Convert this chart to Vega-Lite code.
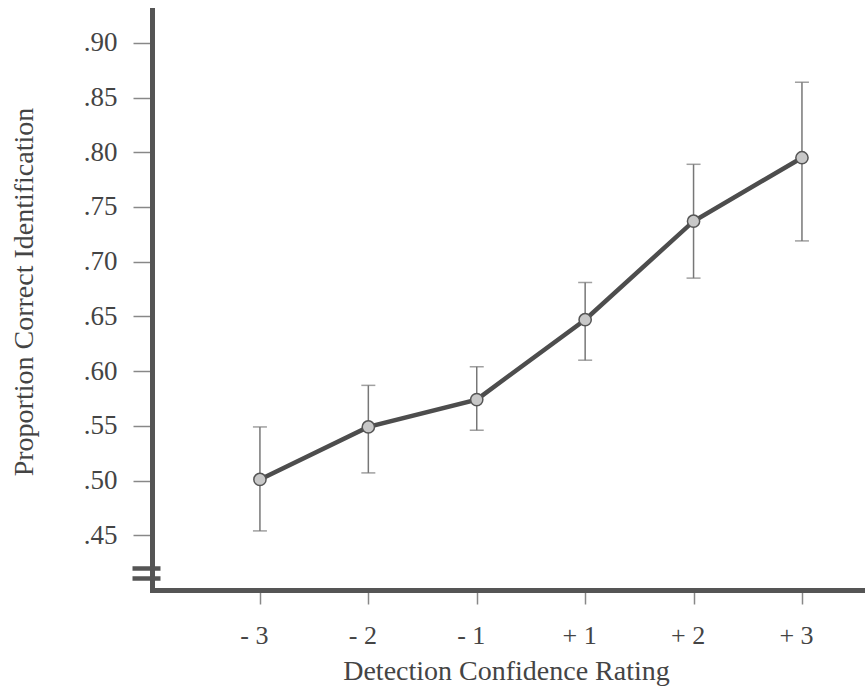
{
  "$schema": "https://vega.github.io/schema/vega-lite/v6.json",
  "width": 712,
  "height": 580,
  "autosize": "none",
  "padding": {"left": 152, "top": 10, "right": 1, "bottom": 98},
  "config": {"view": {"stroke": null}, "font": "Liberation Serif"},
  "data": {
    "values": [
      {"rating": "- 3", "mean": 0.501, "lo": 0.454, "hi": 0.549},
      {"rating": "- 2", "mean": 0.549, "lo": 0.507, "hi": 0.587},
      {"rating": "- 1", "mean": 0.574, "lo": 0.546, "hi": 0.604},
      {"rating": "+ 1", "mean": 0.647, "lo": 0.610, "hi": 0.681},
      {"rating": "+ 2", "mean": 0.737, "lo": 0.685, "hi": 0.789},
      {"rating": "+ 3", "mean": 0.795, "lo": 0.719, "hi": 0.864}
    ]
  },
  "layer": [
    {
      "encoding": {
        "x": {
          "field": "rating",
          "type": "ordinal",
          "sort": ["- 3", "- 2", "- 1", "+ 1", "+ 2", "+ 3"],
          "scale": {"type": "point", "padding": 0.784, "align": 0.635},
          "axis": {
            "domainWidth": 5, "domainColor": "#555", "domainCap": "square",
            "tickSize": 14, "tickWidth": 1.5, "tickColor": "#888",
            "labelAngle": 0, "labelFont": "Liberation Serif", "labelFontSize": 26,
            "labelColor": "#444", "labelBaseline": "alphabetic", "labelPadding": 39,
            "labelOffset": -6,
            "title": "Detection Confidence Rating",
            "titleFont": "Liberation Serif", "titleFontSize": 28, "titleFontWeight": "normal",
            "titleColor": "#444", "titleBaseline": "alphabetic", "titleX": 354, "titleY": 89,
            "titleAlign": "center"
          }
        },
        "y": {
          "field": "mean",
          "type": "quantitative",
          "scale": {"domain": [0.40, 0.93], "nice": false, "zero": false},
          "axis": {
            "values": [0.45, 0.5, 0.55, 0.6, 0.65, 0.7, 0.75, 0.8, 0.85, 0.9],
            "labelExpr": "replace(format(datum.value, '.2f'), '0.', '.')",
            "grid": false,
            "domainWidth": 5, "domainColor": "#555", "domainCap": "square",
            "tickSize": 19, "tickWidth": 1.5, "tickColor": "#888",
            "labelFont": "Liberation Serif", "labelFontSize": 27, "labelColor": "#444",
            "labelPadding": 16, "labelBaseline": "middle",
            "title": "Proportion Correct Identification",
            "titleFont": "Liberation Serif", "titleFontSize": 28, "titleFontWeight": "normal",
            "titleColor": "#444", "titleAngle": 270, "titleBaseline": "alphabetic",
            "titleAlign": "center", "titleX": -120, "titleY": 281.5
          }
        }
      },
      "layer": [
        {
          "mark": {"type": "rule", "color": "#777", "strokeWidth": 1.5},
          "encoding": {"y": {"field": "lo", "type": "quantitative"}, "y2": {"field": "hi"}}
        },
        {
          "mark": {"type": "tick", "orient": "horizontal", "size": 14, "thickness": 1.5, "color": "#777"},
          "encoding": {"y": {"field": "lo", "type": "quantitative"}}
        },
        {
          "mark": {"type": "tick", "orient": "horizontal", "size": 14, "thickness": 1.5, "color": "#777"},
          "encoding": {"y": {"field": "hi", "type": "quantitative"}}
        },
        {
          "mark": {"type": "line", "color": "#4d4d4d", "strokeWidth": 4.5}
        },
        {
          "mark": {"type": "circle", "size": 150, "fill": "#c8c8c8", "stroke": "#555", "strokeWidth": 1.5, "opacity": 1}
        }
      ]
    },
    {
      "mark": {"type": "point", "opacity": 0},
      "encoding": {
        "x": {
          "field": "rating",
          "type": "ordinal",
          "sort": ["- 3", "- 2", "- 1", "+ 1", "+ 2", "+ 3"]
        },
        "y": {
          "field": "mean",
          "type": "quantitative",
          "scale": {"domain": [0.40, 0.93], "nice": false, "zero": false},
          "axis": {
            "orient": "left", "offset": -8,
            "values": [0.411, 0.42],
            "domain": false, "labels": false, "grid": false, "title": null,
            "tickSize": 28, "tickWidth": 4.5, "tickColor": "#555"
          }
        }
      }
    }
  ],
  "resolve": {"axis": {"y": "independent"}}
}
